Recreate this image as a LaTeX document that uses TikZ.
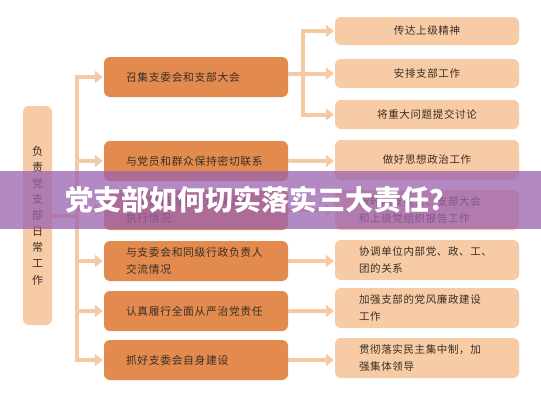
\documentclass[tikz,border=0pt]{standalone}
\usepackage{fontspec}
\newfontfamily\cjk[LetterSpace=6]{Noto Sans CJK SC}
\newfontfamily\cjkhead{Noto Sans CJK SC}
\usetikzlibrary{arrows.meta}
\definecolor{deeporange}{HTML}{E38B4F}
\definecolor{lightpeach}{HTML}{F7CBA5}
\definecolor{linepeach}{HTML}{F5C9A3}
\definecolor{bannerpurple}{HTML}{9A62B0}
\definecolor{textdark}{HTML}{3B2E25}
\tikzset{
	% Box styles for the three columns
	side box/.style={rounded corners=6pt,fill=lightpeach,minimum width=29pt,minimum height=219pt,inner sep=0,align=center,text=textdark,font=\cjk\fontsize{11}{16.1}\selectfont},
	mid box/.style={rounded corners=6pt,fill=deeporange,minimum width=184pt,minimum height=40pt,inner sep=0,text width=140pt,align=left,text=textdark,font=\cjk\fontsize{10.8}{17}\selectfont},
	right box/.style={rounded corners=6pt,fill=lightpeach,minimum width=184pt,minimum height=40pt,inner sep=0,text width=136pt,align=left,text=textdark,font=\cjk\fontsize{10.5}{17}\selectfont},
	% Connectors: thick light lines with solid heads
	trunk/.style={draw=linepeach,line width=4pt},
	flow/.style={trunk,-{Triangle[length=8pt,width=12pt]},shorten >=1pt}
}

\begin{document}
\begin{tikzpicture}[x=1pt,y=-1pt]
	\useasboundingbox[fill=white] (0,0) rectangle (541,400);
	
	% Left column
	\node(duty)[side box] at (37.5,215.5) {负\\责\\党\\支\\部\\日\\常\\工\\作};
	
	% Middle column
	\node(m1)[mid box] at (196,77) {召集支委会和支部大会};
	\node(m2)[mid box] at (196,161) {与党员和群众保持密切联系};
	\node(m3)[mid box] at (196,210) {检查党员对党支部决议的\\执行情况};
	\node(m4)[mid box] at (196,261) {与支委会和同级行政负责人\\交流情况};
	\node(m5)[mid box] at (196,311) {认真履行全面从严治党责任};
	\node(m6)[mid box] at (196,360) {抓好支委会自身建设};
	
	% Right column
	\node(r1)[right box,minimum height=28pt,align=center] at (427,31) {传达上级精神};
	\node(r2)[right box,minimum height=29pt,align=center] at (427,73.5) {安排支部工作};
	\node(r3)[right box,minimum height=29pt,align=center] at (427,114.5) {将重大问题提交讨论};
	\node(r4)[right box,align=center] at (427,160) {做好思想政治工作};
	\node(r5)[right box] at (427,210) {按时向支委会、支部大会\\和上级党组织报告工作};
	\node(r6)[right box] at (427,260) {协调单位内部党、政、工、\\团的关系};
	\node(r7)[right box] at (427,308) {加强支部的党风廉政建设\\工作};
	\node(r8)[right box] at (427,358) {贯彻落实民主集中制，加\\强集体领导};
	
	% Trunk and forks
	\coordinate(trunk) at (77,0);
	\coordinate(fork) at (303,0);
	\draw[trunk] (duty.east) -- (duty.east -| trunk);
	\draw[flow] (trunk |- m6.west) -- (trunk |- m1.west) -- (m1.west);
	\draw[flow] (trunk |- m1.west) -- (trunk |- m6.west) -- (m6.west);
	\foreach \m in {m2,m3,m4,m5}
		\draw[flow] (trunk |- \m.west) -- (\m.west);
	
	\draw[flow] (m1.east |- r2.west) -- (r2.west);
	\draw[flow] (fork |- r2.west) -- (fork |- r1.west) -- (r1.west);
	\draw[flow] (fork |- r2.west) -- (fork |- r3.west) -- (r3.west);
	\foreach \m/\r in {m2/r4,m3/r5,m4/r6,m5/r7,m6/r8}
		\draw[flow] (\m.east) -- (\m.east -| \r.west);
	
	% Title banner
	\fill[bannerpurple,opacity=0.75] (0,171) rectangle (541,229);
	\node(title)[text=white,font=\cjkhead\bfseries\fontsize{28}{30}\selectfont] at (261,200) {党支部如何切实落实三大责任？};
\end{tikzpicture}
\end{document}
